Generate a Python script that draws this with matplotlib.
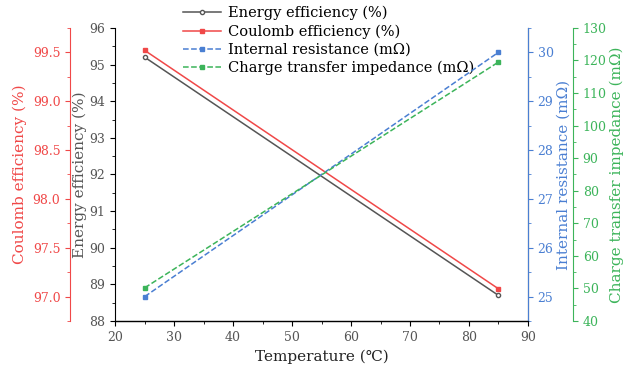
import matplotlib.pyplot as plt
from matplotlib.ticker import MultipleLocator

plt.rcParams['font.family'] = ['DejaVu Serif', 'Noto Sans CJK SC']

temperature = [25, 85]
energy_eff = [95.2, 88.7]
coulomb_eff = [99.52, 97.08]
internal_res = [25.0, 30.0]
charge_imp = [50.2, 119.5]

c_gray = '#555555'
c_red = '#f04848'
c_blue = '#4a7fd2'
c_green = '#3cb45a'

fig = plt.figure(figsize=(6.33, 3.72), dpi=100)
ax = fig.add_axes([0.182, 0.137, 0.652, 0.788])

l1, = ax.plot(temperature, energy_eff, color=c_gray, lw=1.1, marker='o', ms=3,
              mfc='white', mec=c_gray, label='Energy efficiency (%)')
ax.set_xlim(20, 90)
ax.set_ylim(88, 96)
ax.xaxis.set_major_locator(MultipleLocator(10))
ax.xaxis.set_minor_locator(MultipleLocator(5))
ax.yaxis.set_major_locator(MultipleLocator(1))
ax.yaxis.set_minor_locator(MultipleLocator(0.5))
ax.set_xlabel('Temperature (℃)', fontsize=11, color='#222222')
ax.set_ylabel('Energy efficiency (%)', fontsize=11, color=c_gray, labelpad=2)
ax.tick_params(labelsize=9, labelcolor='#555555', direction='out')
ax.spines['top'].set_visible(False)

# Coulomb efficiency - outer left axis
ax_c = ax.twinx()
l2, = ax_c.plot(temperature, coulomb_eff, color=c_red, lw=1.1, marker='s', ms=3,
                label='Coulomb efficiency (%)')
ax_c.set_ylim(96.75, 99.75)
ax_c.yaxis.set_major_locator(MultipleLocator(0.5))
ax_c.yaxis.set_minor_locator(MultipleLocator(0.25))
ax_c.yaxis.set_major_formatter(plt.FormatStrFormatter('%.1f'))
ax_c.spines['left'].set_position(('axes', -0.109))
ax_c.spines['left'].set_visible(True)
ax_c.spines['left'].set_color(c_red)
ax_c.spines['right'].set_visible(False)
ax_c.spines['top'].set_visible(False)
ax_c.yaxis.set_label_position('left')
ax_c.yaxis.set_ticks_position('left')
ax_c.tick_params(axis='y', which='both', colors=c_red, labelsize=9)
ax_c.set_ylabel('Coulomb efficiency (%)', fontsize=11, color=c_red, labelpad=4)

# Internal resistance - right axis
ax_r = ax.twinx()
l3, = ax_r.plot(temperature, internal_res, color=c_blue, lw=1.1, ls='--', marker='s',
                ms=3, label='Internal resistance (mΩ)')
ax_r.set_ylim(24.5, 30.5)
ax_r.yaxis.set_major_locator(MultipleLocator(1))
ax_r.yaxis.set_minor_locator(MultipleLocator(0.5))
ax_r.spines['right'].set_color(c_blue)
ax_r.spines['top'].set_visible(False)
ax_r.spines['left'].set_visible(False)
ax_r.tick_params(axis='y', which='both', colors=c_blue, labelsize=9)
ax_r.set_ylabel('Internal resistance (mΩ)', fontsize=11, color=c_blue, labelpad=2)

# Charge transfer impedance - outer right axis
ax_g = ax.twinx()
l4, = ax_g.plot(temperature, charge_imp, color=c_green, lw=1.1, ls='--', marker='s',
                ms=3, label='Charge transfer impedance (mΩ)')
ax_g.set_ylim(40, 130)
ax_g.yaxis.set_major_locator(MultipleLocator(10))
ax_g.yaxis.set_minor_locator(MultipleLocator(5))
ax_g.spines['right'].set_position(('axes', 1.109))
ax_g.spines['right'].set_color(c_green)
ax_g.spines['top'].set_visible(False)
ax_g.spines['left'].set_visible(False)
ax_g.tick_params(axis='y', which='both', colors=c_green, labelsize=9)
ax_g.set_ylabel('Charge transfer impedance (mΩ)', fontsize=11, color=c_green, labelpad=2)

ax.legend(handles=[l1, l2, l3, l4], loc='upper left', bbox_to_anchor=(0.15, 1.095),
          frameon=False, fontsize=10.5, handlelength=2.6, labelspacing=0.28,
          borderaxespad=0, handletextpad=0.5)

fig.savefig('out.png', dpi=100)
